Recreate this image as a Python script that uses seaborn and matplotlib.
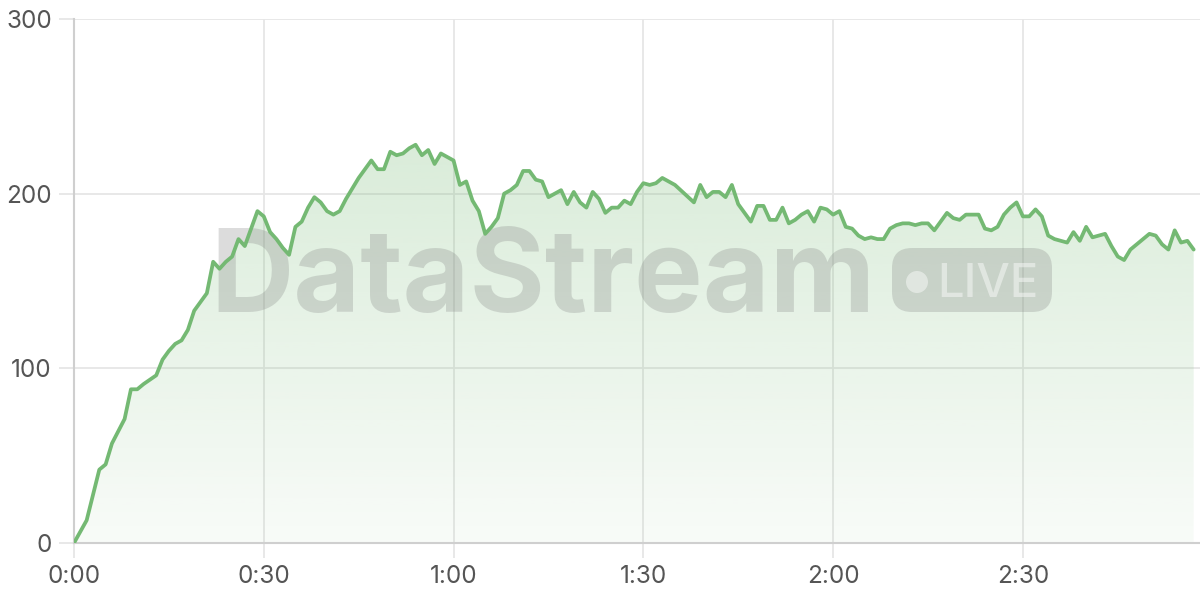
import numpy as np
import matplotlib
matplotlib.use("Agg")
import matplotlib.pyplot as plt
import seaborn as sns
from matplotlib.ticker import FuncFormatter, MultipleLocator
from matplotlib.patches import FancyBboxPatch, Circle
from matplotlib.transforms import IdentityTransform

# seconds since start / concurrent viewers
secs = [0, 2, 4, 5, 6, 8, 9, 10, 11, 13, 14, 15, 16, 17, 18, 19, 21, 22, 23, 24,
        25, 26, 27, 29, 30, 31, 32, 33, 34, 35, 36, 37, 38, 39, 40, 41, 42, 43, 45, 46,
        47, 48, 49, 50, 51, 52, 53, 54, 55, 56, 57, 58, 59, 60, 61, 62, 63, 64, 65, 66,
        67, 68, 69, 70, 71, 72, 73, 74, 75, 77, 78, 79, 80, 81, 82, 83, 84, 85, 86, 87,
        88, 89, 90, 91, 92, 93, 95, 98, 99, 100, 101, 102, 103, 104, 105, 106, 107, 108,
        109, 110, 111, 112, 113, 114, 115, 116, 117, 118, 119, 120, 121, 122, 123, 124,
        125, 126, 127, 128, 129, 130, 131, 132, 133, 134, 135, 136, 137, 138, 139, 140,
        141, 142, 143, 144, 145, 146, 147, 148, 149, 150, 151, 152, 153, 154, 155, 156,
        157, 158, 159, 160, 161, 162, 163, 164, 165, 166, 167, 168, 169, 170, 171, 172,
        173, 174, 175, 176, 177]
viewers = [0, 13, 42, 45, 57, 71, 88, 88, 91, 96, 105, 110, 114, 116, 122, 133, 143, 161, 157, 161,
           164, 174, 170, 190, 187, 178, 174, 169, 165, 181, 184, 192, 198, 195, 190, 188, 190, 197, 209, 214,
           219, 214, 214, 224, 222, 223, 226, 228, 222, 225, 217, 223, 221, 219, 205, 207, 196, 190, 177, 181,
           186, 200, 202, 205, 213, 213, 208, 207, 198, 202, 194, 201, 195, 192, 201, 197, 189, 192, 192, 196,
           194, 201, 206, 205, 206, 209, 205, 195, 205, 198, 201, 201, 198, 205, 194, 189, 184, 193,
           193, 185, 185, 192, 183, 185, 188, 190, 184, 192, 191, 188, 190, 181, 180, 176,
           174, 175, 174, 174, 180, 182, 183, 183, 182, 183, 183, 179, 184, 189, 186, 185,
           188, 188, 188, 180, 179, 181, 188, 192, 195, 187, 187, 191, 187, 176, 174, 173,
           172, 178, 173, 181, 175, 176, 177, 170, 164, 162, 168, 171, 174, 177, 176, 171,
           168, 179, 172, 173, 168]

line_color = "#74b973"

sns.set_theme(style="white")
plt.rcParams["font.family"] = ["Inter", "DejaVu Sans"]

fig = plt.figure(figsize=(12, 6), dpi=100)
ax = fig.add_axes([74 / 1200, 57 / 600, 1126 / 1200, 524 / 600])

# gradient fill under the curve
poly = ax.fill_between(secs, viewers, 0, color="none", lw=0)
grad = np.zeros((256, 1, 4))
grad[:, 0, :3] = matplotlib.colors.to_rgb(line_color)
grad[:, 0, 3] = np.linspace(0.27, 0.05, 256)
img = ax.imshow(grad, aspect="auto", origin="upper",
                extent=[0, 178, 0, max(viewers)], zorder=1)
img.set_clip_path(poly.get_paths()[0], ax.transData)

sns.lineplot(x=secs, y=viewers, ax=ax, color=line_color, linewidth=2.7, zorder=4)
ax.lines[-1].set_solid_joinstyle("round")

ax.set_xlim(0, 178)
ax.set_ylim(0, 300)
ax.xaxis.set_major_locator(MultipleLocator(30))
ax.yaxis.set_major_locator(MultipleLocator(100))
ax.xaxis.set_major_formatter(FuncFormatter(lambda v, p: f"{int(v) // 60}:{int(v) % 60:02d}"))
ax.set_xlabel("")
ax.set_ylabel("")

ax.set_axisbelow(True)
ax.grid(True, color="#e6e6e6", linewidth=1.3)
for s in ["top", "right"]:
    ax.spines[s].set_visible(False)
for s in ["left", "bottom"]:
    ax.spines[s].set_color("#cfcfcf")
    ax.spines[s].set_linewidth(1.5)
ax.tick_params(bottom=True, left=True, length=11, width=1.3, color="#e6e6e6",
               labelcolor="#555555", labelsize=17.5, pad=5)

# watermark, in pixel coordinates
px = IdentityTransform()
wm = "#808080"
ax.text(210, 288, "DataStream", transform=px, fontsize=83, fontweight="bold",
        color=wm, alpha=0.27, ha="left", va="baseline", zorder=3, clip_on=False)
ax.add_patch(FancyBboxPatch((912, 308), 120, 24, boxstyle="round,pad=20",
                            transform=px, facecolor=wm, edgecolor="none",
                            alpha=0.27, zorder=3, clip_on=False))
ax.add_patch(Circle((917, 318), 11, transform=px, facecolor="white",
                    edgecolor="none", alpha=0.45, zorder=3.5, clip_on=False))
ax.text(937, 303, "LIVE", transform=px, fontsize=34, fontweight="medium",
        color="white", alpha=0.45, ha="left", va="baseline", zorder=3.5, clip_on=False)

fig.savefig("out.png", dpi=100)
